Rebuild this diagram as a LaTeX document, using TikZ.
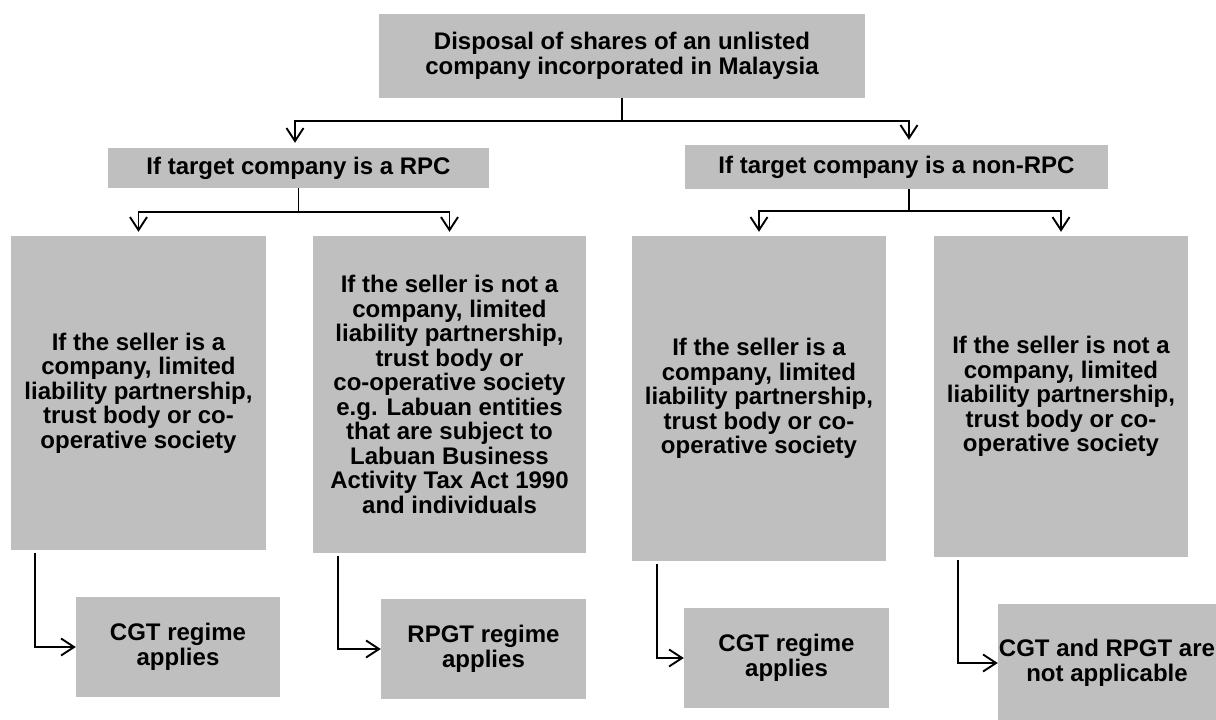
\documentclass[tikz,border=0pt]{standalone}
\usepackage{fontspec}
\setmainfont{Liberation Sans}
\usetikzlibrary{arrows.meta}
\definecolor{boxgray}{HTML}{BFBFBF}
\tikzset{>={Straight Barb[length=13pt,width=17pt]}}
\tikzstyle{block} = [rectangle, fill=boxgray, inner sep=0pt, align=center,
    font=\fontsize{24}{24.5}\selectfont\bfseries]
\tikzstyle{link} = [->, line width=1.9pt, black]

\begin{document}
\begin{tikzpicture}[x=1pt, y=-1pt]
  \useasboundingbox (0,0) rectangle (1216,720);

  % top
  \node [block, minimum width=486pt, minimum height=84pt] (disp) at (622,56)
    {Disposal of shares of an unlisted\\company incorporated in Malaysia};

  % RPC / non-RPC
  \node [block, minimum width=381pt, minimum height=40pt] (rpc) at (298.5,168)
    {If target company is a RPC};
  \node [block, minimum width=423pt, minimum height=44pt] (nonrpc) at (896.5,167)
    {If target company is a non-RPC};

  % seller boxes
  \node [block, minimum width=255pt, minimum height=314pt] (s1) at (138.5,393)
    {If the seller is a\\company, limited\\liability partnership,\\trust body or co-\\operative society};
  \node [block, minimum width=273pt, minimum height=317pt] (s2) at (449.5,394.5)
    {If the seller is not a\\company, limited\\liability partnership,\\trust body or\\co-operative society\\e.g. Labuan entities\\that are subject to\\Labuan Business\\Activity Tax Act 1990\\and individuals};
  \node [block, minimum width=254pt, minimum height=325pt] (s3) at (759,398.5)
    {If the seller is a\\company, limited\\liability partnership,\\trust body or co-\\operative society};
  \node [block, minimum width=254pt, minimum height=321pt] (s4) at (1061,396.5)
    {If the seller is not a\\company, limited\\liability partnership,\\trust body or co-\\operative society};

  % results
  \node [block, minimum width=204pt, minimum height=100pt] (r1) at (178,647)
    {CGT regime\\applies};
  \node [block, minimum width=205pt, minimum height=100pt] (r2) at (483.5,649)
    {RPGT regime\\applies};
  \node [block, minimum width=205pt, minimum height=100pt] (r3) at (786.5,658)
    {CGT regime\\applies};
  \node [block, minimum width=218pt, minimum height=118pt] (r4) at (1107,663)
    {CGT and RPGT are\\not applicable};

  % branches
  \draw [line width=1.9pt] (disp.south) -- ++(0,23) coordinate (j0);
  \draw [link, shorten >=5pt] (j0) -| ([xshift=-3.5pt]rpc.north);
  \draw [link, shorten >=5pt] (j0) -| ([xshift=12.5pt]nonrpc.north);

  \draw [line width=1.9pt] (rpc.south) -- ++(0,24) coordinate (j1);
  \draw [link, shorten >=4pt] (j1) -| (s1.north);
  \draw [link, shorten >=4pt] (j1) -| (s2.north);

  \draw [line width=1.9pt] ([xshift=12.5pt]nonrpc.south) -- ++(0,22) coordinate (j2);
  \draw [link, shorten >=4pt] (j2) -| (s3.north);
  \draw [link, shorten >=4pt] (j2) -| (s4.north);

  \draw [link, shorten <=3pt] ([xshift=24pt]s1.south west) |- (r1.west);
  \draw [link, shorten <=3pt] ([xshift=25pt]s2.south west) |- (r2.west);
  \draw [link, shorten <=3pt] ([xshift=25pt]s3.south west) |- (r3.west);
  \draw [link, shorten <=3pt] ([xshift=24pt]s4.south west) |- (r4.west);
\end{tikzpicture}
\end{document}
